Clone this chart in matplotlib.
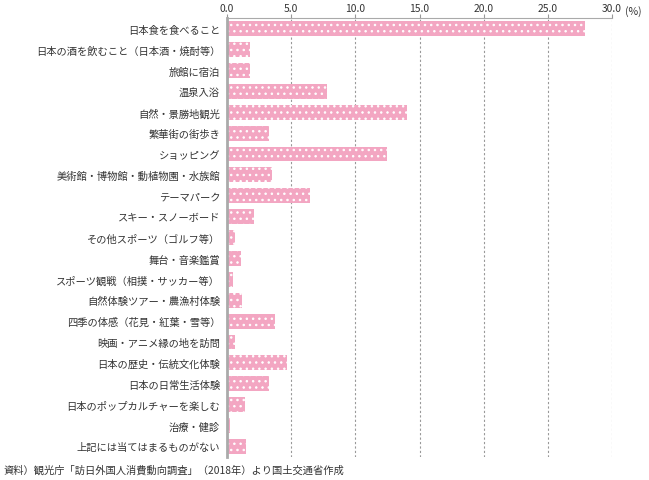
import matplotlib.pyplot as plt
import matplotlib.hatch as mhatch

plt.rcParams['font.family'] = ['Noto Sans CJK JP', 'DejaVu Sans']
plt.rcParams['hatch.linewidth'] = 0.6


# sparser, slightly larger white dots than the stock '.' hatch
class PolkaDots(mhatch.Circles):
    size = 0.13
    filled = True

    def __init__(self, hatch, density):
        self.num_rows = hatch.count('.') * 4   # must stay even
        super().__init__(hatch, density)


mhatch._hatch_types = [PolkaDots if t is mhatch.SmallFilledCircles else t
                       for t in mhatch._hatch_types]

# 訪日外国人が日本滞在中にしたこと（%）
categories = ["日本食を食べること",
              "日本の酒を飲むこと（日本酒・焼酎等）",
              "旅館に宿泊",
              "温泉入浴",
              "自然・景勝地観光",
              "繁華街の街歩き",
              "ショッピング",
              "美術館・博物館・動植物園・水族館",
              "テーマパーク",
              "スキー・スノーボード",
              "その他スポーツ（ゴルフ等）",
              "舞台・音楽鑑賞",
              "スポーツ観戦（相撲・サッカー等）",
              "自然体験ツアー・農漁村体験",
              "四季の体感（花見・紅葉・雪等）",
              "映画・アニメ縁の地を訪問",
              "日本の歴史・伝統文化体験",
              "日本の日常生活体験",
              "日本のポップカルチャーを楽しむ",
              "治療・健診",
              "上記には当てはまるものがない"]
values = [27.9, 1.8, 1.8, 7.8, 14.0, 3.3, 12.5, 3.5, 6.5, 2.1, 0.65,
          1.1, 0.45, 1.2, 3.7, 0.65, 4.7, 3.3, 1.4, 0.2, 1.5]
xticks = [0, 5, 10, 15, 20, 25, 30]
source = "資料）観光庁「訪日外国人消費動向調査」（2018年）より国土交通省作成"

fig = plt.figure(figsize=(6.49, 4.81), dpi=100)
ax = fig.add_axes([0.3498, 0.048, 0.5932, 0.912])

ypos = list(range(len(categories)))
ax.barh(ypos, values, height=0.71, color='#F3A6C2', edgecolor='white',
        linewidth=0, hatch='....', zorder=3)

ax.set_ylim(len(categories) - 0.5, -0.5)
ax.set_xlim(0, 30)
ax.set_yticks(ypos)
ax.set_yticklabels(categories, fontsize=7.4, color='#333333')
ax.set_xticks(xticks)
ax.set_xticklabels(["%.1f" % t for t in xticks], fontsize=7.4, color='#333333')
ax.xaxis.tick_top()
ax.tick_params(axis='x', length=3, width=0.8, color='#999999', pad=1)
ax.tick_params(axis='y', length=0, pad=5)

ax.grid(axis='x', linestyle=(0, (2, 2)), color='#999999', linewidth=0.8, zorder=0)
for s in ['right', 'bottom']:
    ax.spines[s].set_visible(False)
ax.spines['top'].set_color('#aaaaaa')
ax.spines['top'].set_linewidth(0.8)
ax.spines['left'].set_color('#aaaaaa')
ax.spines['left'].set_linewidth(2)
ax.spines['left'].set_zorder(4)

# unit label next to the last tick label
ax.annotate("(%)", xy=(30, 1), xycoords=('data', 'axes fraction'),
            xytext=(9, 5.8), textcoords='offset points',
            fontsize=7.6, color='#333333', ha='left', va='center')

fig.text(0.006, 0.022, source, fontsize=7.4, color='#333333', va='center')

fig.savefig('out.png', dpi=100)
